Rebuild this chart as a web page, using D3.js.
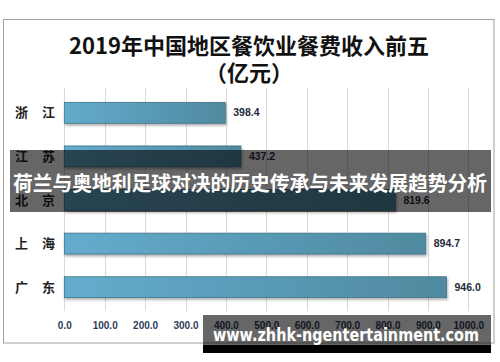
<!DOCTYPE html>
<html>
<head>
<meta charset="utf-8">
<script src="https://cdn.jsdelivr.net/npm/d3@7"></script>
<style>
  html, body { margin: 0; padding: 0; background: #fff; }
  svg { display: block; }
</style>
</head>
<body>
<div id="chart"></div>
<script>
// 2019 top-five regional catering revenue (100M yuan)
const regions = ['浙江', '江苏', '北京', '上海', '广东'];
const revenue = [398.4, 437.2, 819.6, 894.7, 946.0];
const ticks = [0, 100, 200, 300, 400, 500, 600, 700, 800, 900, 1000];
const titleLines = ['2019年中国地区餐饮业餐费收入前五', '（亿元）'];
const bannerText = '荷兰与奥地利足球对决的历史传承与未来发展趋势分析';
const siteText = 'www.zhhk-ngentertainment.com';

const W = 500, H = 362;
const cjk = "'Noto Sans CJK SC', 'Noto Sans', sans-serif";
const latin = "'Liberation Sans', Arial, sans-serif";

const svg = d3.select('#chart').append('svg')
  .attr('width', W).attr('height', H);

const defs = svg.append('defs');
const grad = defs.append('linearGradient').attr('id', 'barGrad')
  .attr('x1', '0%').attr('x2', '100%').attr('y1', '0%').attr('y2', '0%');
grad.append('stop').attr('offset', '0%').attr('stop-color', '#64acce');
grad.append('stop').attr('offset', '100%').attr('stop-color', '#4f8a9f');
const shadow = defs.append('filter').attr('id', 'shadow')
  .attr('x', '-5%').attr('y', '-20%').attr('width', '110%').attr('height', '160%');
shadow.append('feDropShadow').attr('dx', 1).attr('dy', 2).attr('stdDeviation', 1.2)
  .attr('flood-color', '#000').attr('flood-opacity', 0.3);

// outer frame
svg.append('rect')
  .attr('x', 3.5).attr('y', 19.5).attr('width', 490.5).attr('height', 323.5)
  .attr('fill', '#fff').attr('stroke', '#a0a0a0').attr('stroke-width', 1);

// title
svg.append('g').selectAll('text').data(titleLines).enter().append('text')
  .attr('x', 249).attr('y', (d, i) => 54 + i * 27)
  .attr('text-anchor', 'middle')
  .attr('font-family', "'Noto Sans CJK SC', serif")
  .attr('font-weight', 700)
  .attr('font-size', 22)
  .attr('fill', '#111')
  .text(d => d);

const x = d3.scaleLinear().domain([0, 1000]).range([64.3, 468.3]);
const y = d3.scaleBand().domain(regions).range([91, 309])
  .paddingInner(0.52).paddingOuter(0.26);

// gridlines
svg.append('g').selectAll('line').data(ticks).enter().append('line')
  .attr('x1', d => Math.round(x(d)) + 0.5).attr('x2', d => Math.round(x(d)) + 0.5)
  .attr('y1', 88).attr('y2', 311)
  .attr('stroke', '#d9d9d9').attr('stroke-width', 1);

// x tick labels
const xAxis = d3.axisBottom(x).tickValues(ticks).tickSize(0).tickFormat(d3.format('.1f'));
const gx = svg.append('g').attr('transform', 'translate(0,320)').call(xAxis);
gx.select('.domain').remove();
gx.selectAll('text')
  .attr('font-family', latin)
  .attr('font-weight', 700)
  .attr('font-size', 10)
  .attr('fill', '#2f3c5a')
  .attr('dy', '0.6em');

// category labels, the two characters spread apart
const cat = svg.append('g').selectAll('g').data(regions).enter().append('g')
  .attr('transform', d => `translate(0,${y(d) + y.bandwidth() / 2})`);
cat.selectAll('text').data(d => Array.from(d)).enter().append('text')
  .attr('x', (c, i) => 15 + i * 27)
  .attr('dy', '0.35em')
  .attr('font-family', cjk)
  .attr('font-weight', 700)
  .attr('font-size', 13)
  .attr('fill', '#222')
  .text(c => c);

// bars
svg.append('g').selectAll('rect').data(revenue).enter().append('rect')
  .attr('x', x(0))
  .attr('y', (d, i) => y(regions[i]))
  .attr('width', d => x(d) - x(0))
  .attr('height', y.bandwidth())
  .attr('fill', 'url(#barGrad)')
  .attr('stroke', '#3f7287').attr('stroke-width', 0.8)
  .attr('filter', 'url(#shadow)');

// value labels
svg.append('g').selectAll('text').data(revenue).enter().append('text')
  .attr('x', d => x(d) + 8)
  .attr('y', (d, i) => y(regions[i]) + y.bandwidth() / 2)
  .attr('dy', '0.35em')
  .attr('font-family', latin)
  .attr('font-weight', 700)
  .attr('font-size', 10.5)
  .attr('fill', '#1e2a3c')
  .text(d => d.toFixed(1));

// banner overlay
svg.append('rect').attr('x', 10).attr('y', 150).attr('width', 481).attr('height', 62)
  .attr('fill', 'rgba(0,0,0,0.6)');
svg.append('text')
  .attr('x', 250).attr('y', 191)
  .attr('text-anchor', 'middle')
  .attr('font-family', cjk)
  .attr('font-weight', 700)
  .attr('font-size', 20.5)
  .attr('fill', '#fff')
  .attr('textLength', 474).attr('lengthAdjust', 'spacingAndGlyphs')
  .text(bannerText);

// site watermark
svg.append('rect').attr('x', 203).attr('y', 315).attr('width', 288).attr('height', 30)
  .attr('fill', 'rgba(0,0,0,0.6)');
svg.append('rect').attr('x', 203).attr('y', 345).attr('width', 288).attr('height', 8)
  .attr('fill', '#000');
svg.append('text')
  .attr('x', 213).attr('y', 341)
  .attr('font-family', "'DejaVu Sans', sans-serif")
  .attr('font-weight', 700)
  .attr('font-size', 17)
  .attr('fill', '#fff')
  .attr('textLength', 266).attr('lengthAdjust', 'spacingAndGlyphs')
  .text(siteText);
</script>
</body>
</html>
